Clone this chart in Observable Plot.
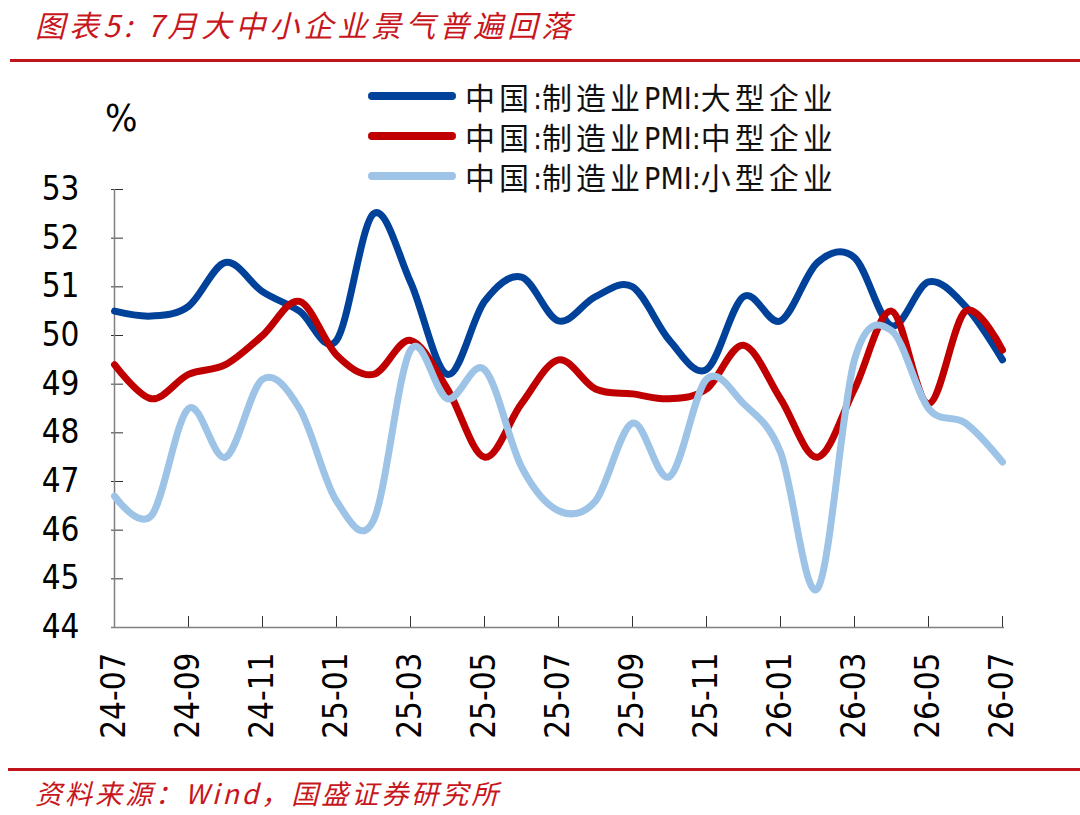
<!DOCTYPE html>
<html>
<head>
<meta charset="utf-8">
<script src="https://cdn.jsdelivr.net/npm/d3@7"></script>
<script src="https://cdn.jsdelivr.net/npm/@observablehq/plot@0.6"></script>
<style>
  html, body { margin: 0; padding: 0; background: #fff; }
  #wrap { position: relative; width: 1080px; height: 815px; overflow: hidden; }
  .title { position: absolute; left: 35px; top: 2px; font-family: "Noto Sans CJK SC", sans-serif; font-style: italic; font-size: 30px; letter-spacing: 4px; color: #c8161d; white-space: nowrap; }
  .rule { position: absolute; left: 10px; right: 0; height: 3px; background: #c0141c; }
  .source { position: absolute; left: 35px; top: 773px; line-height: normal; font-family: "Noto Sans CJK SC", sans-serif; font-style: italic; font-size: 27px; letter-spacing: 3px; color: #c8161d; white-space: nowrap; }
  .pct { position: absolute; left: 105px; top: 96px; font-family: "DejaVu Sans Condensed", "DejaVu Sans", sans-serif; font-stretch: condensed; font-size: 38px; color: #000; }
  .legend { position: absolute; left: 368px; top: 76px; z-index: 2; font-family: "DejaVu Sans Condensed", "DejaVu Sans", "Noto Sans CJK SC", sans-serif; font-stretch: condensed; font-size: 30px; color: #111; }
  .legend .row { display: flex; align-items: center; height: 40px; white-space: nowrap; }
  .legend .sw { width: 88px; height: 8px; border-radius: 4px; margin-right: 9px; }
  .legend .cjk { font-family: "Noto Sans CJK SC", sans-serif; letter-spacing: 4px; font-weight: 400; }
  #chart { position: absolute; left: 0; top: 70px; }
</style>
</head>
<body>
<div id="wrap">
  <div class="title">图表5: 7月大中小企业景气普遍回落</div>
  <div class="rule" style="top:59px"></div>
  <div class="pct">%</div>
  <div class="legend" id="legend"></div>
  <div id="chart"></div>
  <div class="rule" style="top:768px; left:8px"></div>
  <div class="source">资料来源：Wind，国盛证券研究所</div>
</div>
<script>
const months = ["24-07","24-08","24-09","24-10","24-11","24-12","25-01","25-02","25-03","25-04","25-05","25-06","25-07","25-08","25-09","25-10","25-11","25-12","26-01","26-02","26-03","26-04","26-05","26-06","26-07"];
const large  = [50.5,50.4,50.6,51.5,50.9,50.5,49.9,52.5,51.1,49.2,50.7,51.2,50.3,50.8,51.0,49.9,49.3,50.8,50.3,51.5,51.6,50.2,51.1,50.6,49.5];
const medium = [49.4,48.7,49.2,49.4,50.0,50.7,49.6,49.2,49.9,48.9,47.5,48.6,49.5,48.9,48.8,48.7,48.9,49.8,48.7,47.5,48.9,50.5,48.6,50.5,49.7];
const small  = [46.7,46.3,48.5,47.5,49.1,48.5,46.6,46.2,49.7,48.7,49.3,47.3,46.4,46.6,48.2,47.1,49.1,48.6,47.6,44.8,49.5,50.1,48.5,48.2,47.4];
const seriesNames = ["中国:制造业PMI:大型企业","中国:制造业PMI:中型企业","中国:制造业PMI:小型企业"];
const seriesColors = ["#00419a","#c00000","#9dc3e6"];
const yTicks = [44,45,46,47,48,49,50,51,52,53];
const xTicks = months.filter((d, i) => i % 2 === 0);

const rows = [];
[large, medium, small].forEach((arr, s) => arr.forEach((v, i) => rows.push({month: months[i], value: v, series: seriesNames[s]})));

const tickFont = `"DejaVu Sans Condensed", "DejaVu Sans", sans-serif`;

const chart = Plot.plot({
  width: 1080,
  height: 700,
  marginTop: 119,
  marginBottom: 143,
  marginLeft: 111,
  marginRight: 76,
  style: {fontFamily: tickFont, fontSize: "32px", color: "#000", background: "transparent", overflow: "visible"},
  x: {type: "point", domain: months, padding: 0},
  y: {domain: [44, 53]},
  color: {domain: seriesNames, range: seriesColors},
  marks: [
    Plot.axisY(yTicks, {tickSize: -12, tickPadding: 44, stroke: "#333", fontSize: 33, label: null, fill: "#000"}),
    Plot.axisX(xTicks, {tickSize: -11, tickPadding: 36, tickRotate: -90, stroke: "#333", fontSize: 33, label: null, fill: "#000"}),
    Plot.ruleY([44], {stroke: "#808080", strokeWidth: 1.5}),
    Plot.ruleX([months[0]], {stroke: "#808080", strokeWidth: 1.5}),
    Plot.line(rows, {x: "month", y: "value", z: "series", stroke: "series", strokeWidth: 7, curve: "cardinal", strokeLinecap: "round", strokeLinejoin: "round"})
  ]
});
document.getElementById("chart").appendChild(chart);

const legend = document.getElementById("legend");
seriesNames.forEach((name, i) => {
  const row = document.createElement("div");
  row.className = "row";
  const sw = document.createElement("div");
  sw.className = "sw";
  sw.style.background = seriesColors[i];
  row.appendChild(sw);
  const label = document.createElement("span");
  name.split(/(PMI|:)/).forEach(part => {
    if (!part) return;
    const sp = document.createElement("span");
    sp.textContent = part;
    if (!/^(PMI|:)$/.test(part)) sp.className = "cjk";
    label.appendChild(sp);
  });
  row.appendChild(label);
  legend.appendChild(row);
});
</script>
</body>
</html>
